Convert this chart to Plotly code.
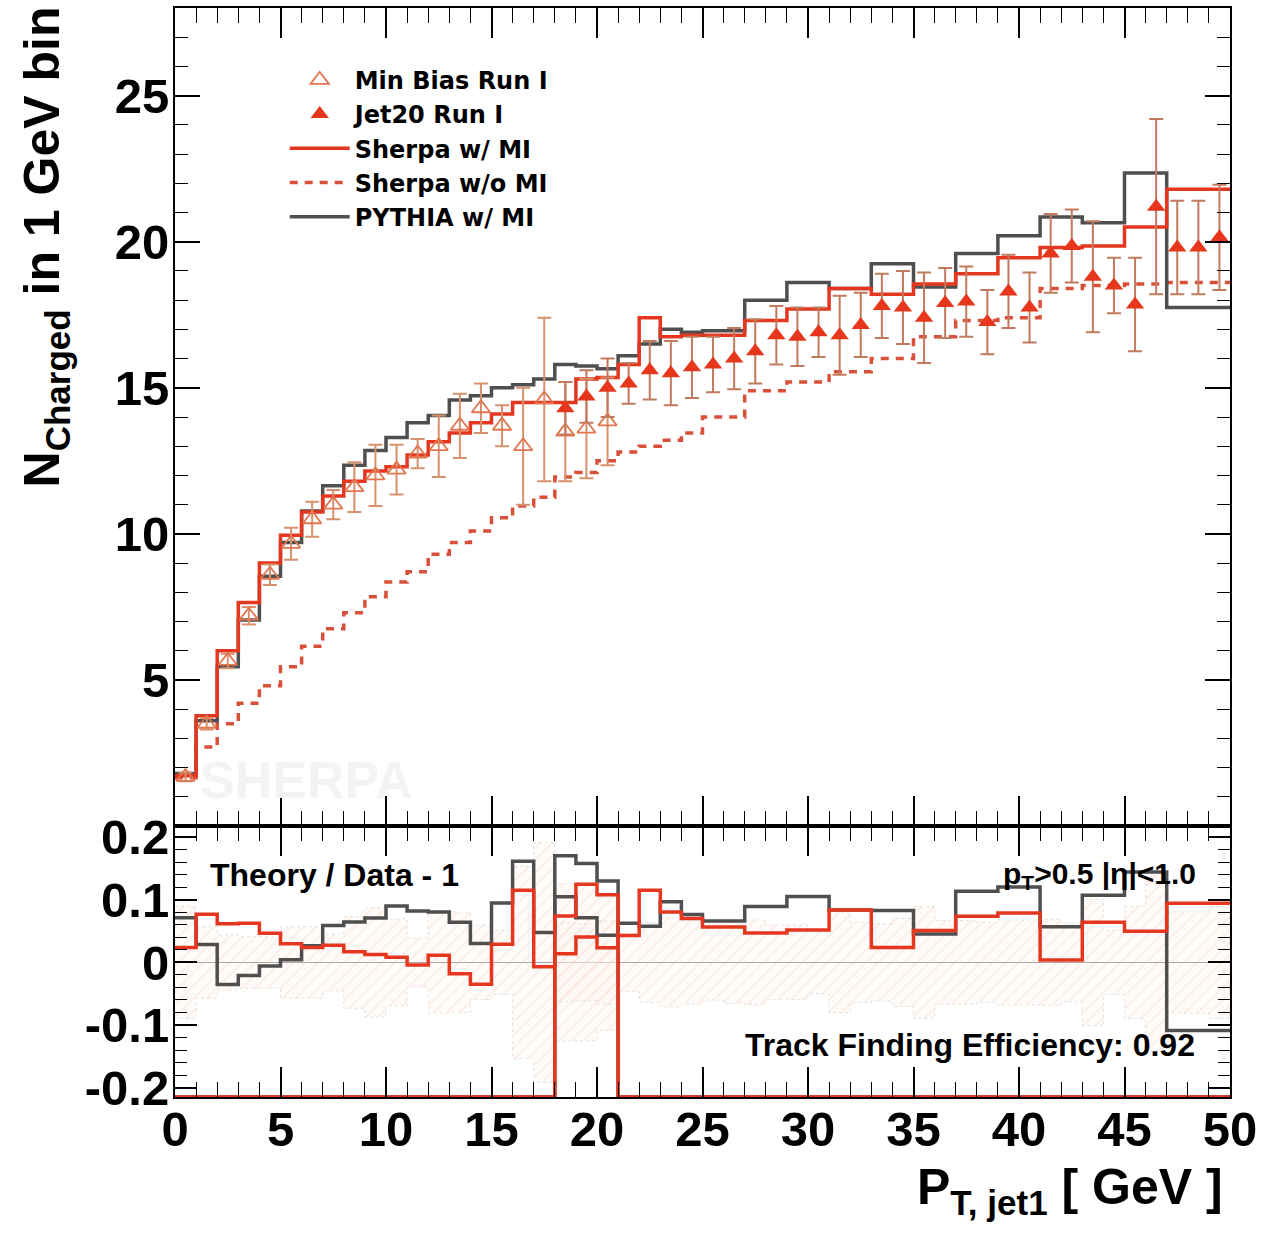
import numpy as np
import plotly.graph_objects as go

# ---------------- data ----------------
# theory histogram bin edges (GeV)
edges = list(range(0, 26)) + [27, 29, 31, 33, 35, 37, 39, 41, 43, 45, 47, 50]

sherpa_mi = [1.72, 3.77, 6.0, 7.65, 9.0, 9.95, 10.75, 11.3, 11.8, 12.15,
             12.3, 12.7, 13.15, 13.45, 13.8, 14.1, 14.5, 14.5, 14.5, 15.3,
             15.35, 15.8, 17.4, 16.75, 16.8,
             16.8, 17.3, 17.7, 18.4, 18.2, 18.55, 18.9, 19.45, 19.8, 19.85, 20.5, 21.8]

sherpa_nomi = [1.65, 2.7, 3.5, 4.2, 4.8, 5.45, 6.15, 6.75, 7.3, 7.85,
               8.35, 8.7, 9.3, 9.7, 10.1, 10.55, 10.95, 11.25, 11.95, 12.1,
               12.5, 12.8, 13.0, 13.2, 13.45,
               14.0, 14.9, 15.2, 15.55, 16.0, 16.75, 17.3, 17.4, 18.4, 18.5, 18.55, 18.6]

pythia_mi = [1.80, 3.6, 5.45, 7.05, 8.55, 9.7, 10.78, 11.65, 12.35, 12.85,
             13.3, 13.8, 14.05, 14.58, 14.73, 15.0, 15.1, 15.3, 15.8, 15.75,
             15.65, 16.1, 16.5, 17.0, 16.9,
             16.95, 18.0, 18.6, 18.4, 19.25, 18.45, 19.6, 20.2, 20.85, 20.65, 22.35, 17.75]

# Min Bias Run I data
mb_x = [0.5, 1.5, 2.5, 3.5, 4.5, 5.5, 6.5, 7.5, 8.5, 9.5, 10.5, 11.5, 12.5,
        13.5, 14.5, 15.5, 16.5, 17.5, 18.5, 19.5, 20.5]
mb_y = [1.68, 3.5, 5.65, 7.2, 8.6, 9.66, 10.5, 11.0, 11.6, 12.0, 12.2, 12.75, 13.0,
        13.7, 14.3, 13.7, 13.0, 14.6, 13.5, 13.6, 13.85]
mb_err = [0.15, 0.2, 0.25, 0.3, 0.35, 0.55, 0.6, 0.5, 0.85, 1.05, 0.85, 0.5, 1.05,
          1.1, 0.85, 0.7, 2.0, 2.8, 1.7, 1.7, 1.5]

# Jet20 Run I data
j20_x = [18.5, 19.5, 20.5, 21.5, 22.5, 23.5, 24.5, 25.5, 26.5, 27.5, 28.5, 29.5,
         30.5, 31.5, 32.5, 33.5, 34.5, 35.5, 36.5, 37.5, 38.5, 39.5, 40.5, 41.5,
         42.5, 43.5, 44.5, 45.5, 46.5, 47.5, 48.5, 49.5]
j20_y = [14.3, 14.7, 15.0, 15.15, 15.6, 15.5, 15.7, 15.8, 16.0, 16.25, 16.8, 16.75,
         16.9, 16.8, 17.15, 17.8, 17.75, 17.4, 17.9, 17.95, 17.25, 18.3, 17.75, 19.6,
         19.85, 18.8, 18.5, 17.85, 21.2, 19.8, 19.8, 20.15]
j20_err = [0.9, 0.9, 1.0, 0.7, 1.0, 1.1, 1.05, 0.95, 1.05, 1.1, 1.0, 1.0,
           0.85, 1.35, 1.1, 1.1, 1.25, 1.55, 1.2, 1.2, 1.1, 1.25, 1.2, 1.35,
           1.25, 1.9, 0.95, 1.6, 3.0, 1.6, 1.6, 1.8]

# ---------------- styling constants ----------------
RED = "#e5371f"
RED_DASH = "#d9503a"
GRAY = "#4f4f4f"
MB_COL = "#e2764f"
MB_ERR = "#d8916d"
J20_COL = "#e6361c"
J20_ERR = "#c27a5e"
FONT = "Liberation Sans"
R_LO, R_HI = -0.215, 0.218
Y_TOP = [0, 28]
SPLIT = 271 / 1089


def step_xy(vals):
    return list(edges), list(vals) + [vals[-1]]


def ratio(theory, dx, dy):
    dx = np.asarray(dx, float)
    dy = np.asarray(dy, float)
    out = []
    for i, t in enumerate(theory):
        lo, hi = edges[i], edges[i + 1]
        sel = (dx > lo) & (dx < hi)
        out.append(t / dy[sel].mean() - 1.0 if sel.any() else -1.0)
    return np.clip(np.array(out), R_LO, R_HI)


def band(dx, dy, de):
    xs, up = [], []
    for x, y, e in zip(dx, dy, de):
        xs += [x - 0.5, x + 0.5]
        up += [e / y, e / y]
    return xs + xs[::-1], up + [-u for u in up[::-1]]


fig = go.Figure()

# ---------- lower panel: hatched data-uncertainty bands ----------
for dx, dy, de in [(mb_x, mb_y, mb_err), (j20_x, j20_y, j20_err)]:
    bx, by = band(dx, dy, de)
    fig.add_trace(go.Scatter(
        x=bx, y=by, xaxis="x", yaxis="y", mode="lines", fill="toself",
        line=dict(color="rgba(200,200,200,0.5)", width=1, dash="dot"),
        fillcolor="rgba(0,0,0,0)",
        fillpattern=dict(shape="/", fgcolor="rgba(240,185,160,0.6)",
                         bgcolor="rgba(255,248,244,0.5)", size=9, solidity=0.14),
        showlegend=False, hoverinfo="skip"))

# ---------- lower panel: ratio histograms ----------
for theory, col in [(pythia_mi, GRAY), (sherpa_mi, RED)]:
    for dx, dy in [(mb_x, mb_y), (j20_x, j20_y)]:
        r = ratio(theory, dx, dy)
        sx, sy = step_xy(list(r))
        fig.add_trace(go.Scatter(
            x=sx, y=sy, xaxis="x", yaxis="y", mode="lines",
            line=dict(color=col, width=3.5, shape="hv"),
            showlegend=False, hoverinfo="skip"))

# ---------- top panel: theory histograms ----------
sx, sy = step_xy(sherpa_nomi)
fig.add_trace(go.Scatter(x=sx, y=sy, xaxis="x2", yaxis="y2", mode="lines",
                         name="Sherpa w/o MI", legendrank=4,
                         line=dict(color=RED_DASH, width=3.5, shape="hv", dash="8px,7px")))
sx, sy = step_xy(pythia_mi)
fig.add_trace(go.Scatter(x=sx, y=sy, xaxis="x2", yaxis="y2", mode="lines",
                         name="PYTHIA w/ MI", legendrank=5,
                         line=dict(color=GRAY, width=3.5, shape="hv")))
sx, sy = step_xy(sherpa_mi)
fig.add_trace(go.Scatter(x=sx, y=sy, xaxis="x2", yaxis="y2", mode="lines",
                         name="Sherpa w/ MI", legendrank=3,
                         line=dict(color=RED, width=3.5, shape="hv")))

# ---------- top panel: data ----------
fig.add_trace(go.Scatter(
    x=mb_x, y=mb_y, xaxis="x2", yaxis="y2", mode="markers", name="Min Bias Run I",
    legendrank=1,
    marker=dict(symbol="triangle-up-open", size=16, color=MB_COL, line=dict(width=1.8, color=MB_COL)),
    error_y=dict(type="data", array=mb_err, color=MB_ERR, thickness=2, width=7)))
fig.add_trace(go.Scatter(
    x=j20_x, y=j20_y, xaxis="x2", yaxis="y2", mode="markers", name="Jet20 Run I",
    legendrank=2,
    marker=dict(symbol="triangle-up", size=16, color=J20_COL, line=dict(width=0)),
    error_y=dict(type="data", array=j20_err, color=J20_ERR, thickness=2, width=7)))

tickfont = dict(family=FONT, size=49, color="black", weight="bold")
common_x = dict(range=[0, 50], tickmode="linear", tick0=0, dtick=5, ticks="inside",
                ticklen=30, tickwidth=1.5, tickcolor="black", showline=True,
                linecolor="black", linewidth=2, mirror="allticks", showgrid=False,
                zeroline=False,
                minor=dict(ticks="inside", dtick=1, ticklen=15, tickwidth=1.2,
                           tickcolor="black", showgrid=False))

fig.update_layout(
    width=1274, height=1236,
    margin=dict(l=175, r=44, t=8, b=139, autoexpand=False),
    paper_bgcolor="white", plot_bgcolor="white",
    font=dict(family=FONT, color="black"),
    xaxis=dict(anchor="y", tickfont=tickfont, ticklabelstandoff=-12, **common_x),
    yaxis=dict(domain=[0, SPLIT], anchor="x", range=[R_LO, R_HI],
               tickvals=[-0.2, -0.1, 0, 0.1, 0.2],
               ticktext=["-0.2", "-0.1", "0", "0.1", "0.2"],
               ticks="inside", ticklen=22, tickwidth=1.5, tickcolor="black",
               showline=True, linecolor="black", linewidth=2, mirror="allticks",
               showgrid=False, zeroline=True, zerolinecolor="#555555", zerolinewidth=1,
               tickfont=tickfont, ticklabelstandoff=-6,
               minor=dict(ticks="inside", dtick=0.02, tick0=0, ticklen=12, tickwidth=1.2,
                          tickcolor="black", showgrid=False)),
    xaxis2=dict(anchor="y2", matches="x", showticklabels=False, **common_x),
    yaxis2=dict(domain=[SPLIT, 1], anchor="x2", range=Y_TOP,
                tickvals=[5, 10, 15, 20, 25], ticks="inside", ticklen=25, tickwidth=1.5,
                tickcolor="black", showline=True, linecolor="black", linewidth=2,
                mirror="allticks", showgrid=False, zeroline=False, tickfont=tickfont,
                ticklabelstandoff=-6,
                minor=dict(ticks="inside", dtick=1, ticklen=13, tickwidth=1.2,
                           tickcolor="black", showgrid=False)),
    legend=dict(x=0.104, y=0.9543, xanchor="left", yanchor="top",
                bgcolor="rgba(0,0,0,0)", tracegroupgap=0, itemwidth=60,
                font=dict(family="DejaVu Sans", size=24, color="black", weight="bold")),
    hovermode=False,
)

ann_font = dict(family=FONT, size=32, color="black", weight="bold")
fig.add_annotation(text="SHERPA", xref="paper", yref="paper", x=0.125, y=0.291,
                   xanchor="center", yanchor="middle",
                   showarrow=False, font=dict(family=FONT, size=52, color="#f3f3f3", weight="bold"))
fig.add_annotation(text="Theory / Data - 1", xref="paper", yref="paper", x=0.031, y=0.2038,
                   xanchor="left", yanchor="middle", showarrow=False, font=ann_font)
fig.add_annotation(text="p<sub>T</sub>&gt;0.5 |η|&lt;1.0", xref="paper", yref="paper",
                   x=0.97, y=0.2038, xanchor="right", yanchor="middle", showarrow=False,
                   font=dict(family=FONT, size=30, color="black", weight="bold"))
fig.add_annotation(text="Track Finding Efficiency: 0.92", xref="paper", yref="paper",
                   x=0.969, y=0.0478, xanchor="right", yanchor="middle", showarrow=False,
                   font=ann_font)
fig.add_annotation(text="P<sub>T, jet1</sub> [ GeV ]", xref="paper", yref="paper",
                   x=0.995, y=-0.086, xanchor="right", yanchor="middle", showarrow=False,
                   font=dict(family=FONT, size=50, color="black", weight="bold"))
fig.add_annotation(text="N<sub>Charged</sub> in 1 GeV bin", xref="paper", yref="paper",
                   x=-0.123, y=1.003, xanchor="center", yanchor="top", textangle=-90,
                   showarrow=False,
                   font=dict(family=FONT, size=50, color="black", weight="bold"))

fig.write_html("out.html")
